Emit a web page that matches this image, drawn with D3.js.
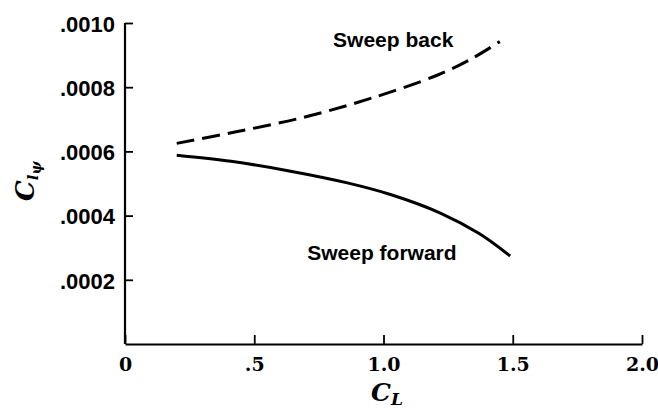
<!DOCTYPE html>
<html>
<head>
<meta charset="utf-8">
<script src="https://cdn.jsdelivr.net/npm/d3@7"></script>
<style>
html,body{margin:0;padding:0;background:#fff;}
svg{display:block;}
</style>
</head>
<body>
<svg id="chart" width="658" height="410"></svg>
<script>
// Data
const xTicks = [0, 0.5, 1.0, 1.5, 2.0];
const xTickLabels = ["0", ".5", "1.0", "1.5", "2.0"];
const yTicks = [0.0002, 0.0004, 0.0006, 0.0008, 0.0010];
const yTickLabels = [".0002", ".0004", ".0006", ".0008", ".0010"];

const backCL = [0.20, 0.43, 0.69, 0.95, 1.21, 1.335, 1.45];
const backCl = [0.000625, 0.000661, 0.000706, 0.000765, 0.000838, 0.000886, 0.000942];
const fwdCL = [0.20, 0.41, 0.63, 0.86, 1.03, 1.22, 1.37, 1.49];
const fwdCl = [0.000588, 0.000569, 0.000540, 0.000502, 0.000465, 0.000408, 0.000344, 0.000274];

const seriesNames = ["Sweep back", "Sweep forward"];

const svg = d3.select("#chart");
const x = d3.scaleLinear().domain([0, 2]).range([125, 642]);
const y = d3.scaleLinear().domain([0, 0.001]).range([344, 23]);

// X axis
const xAxis = d3.axisBottom(x).tickValues(xTicks).tickSizeInner(-9).tickSizeOuter(0)
  .tickFormat((d, i) => xTickLabels[i]).tickPadding(14);
const gx = svg.append("g").attr("transform", `translate(0,${y(0)})`).call(xAxis);
gx.select(".domain").attr("stroke", "#000").attr("stroke-width", 2.2);
gx.selectAll(".tick line").attr("stroke", "#000").attr("stroke-width", 1.8);
gx.selectAll(".tick text").attr("fill", "#000")
  .style("font-family", "'DejaVu Serif', serif").style("font-weight", "bold").style("font-size", "19px");

// Y axis
const yAxis = d3.axisLeft(y).tickValues(yTicks).tickSizeInner(-8).tickSizeOuter(0)
  .tickFormat((d, i) => yTickLabels[i]).tickPadding(10);
const gy = svg.append("g").attr("transform", `translate(${x(0)},0)`).call(yAxis);
gy.select(".domain").attr("stroke", "#000").attr("stroke-width", 2.2)
  .attr("d", `M0,${y(0.001)}V${y(0)}`);
gy.selectAll(".tick line").attr("stroke", "#000").attr("stroke-width", 1.8);
gy.selectAll(".tick text").attr("fill", "#000")
  .style("font-family", "'Liberation Sans', Arial, sans-serif").style("font-weight", "bold").style("font-size", "22px")
  .attr("dy", "0.38em");

// Curves
const line = d3.line().x(d => x(d[0])).y(d => y(d[1])).curve(d3.curveCatmullRom.alpha(0.5));
const backData = backCL.map((v, i) => [v, backCl[i]]);
const fwdData = fwdCL.map((v, i) => [v, fwdCl[i]]);

svg.append("path").attr("d", line(backData)).attr("fill", "none")
  .attr("stroke", "#000").attr("stroke-width", 3).attr("stroke-dasharray", "18,8");
svg.append("path").attr("d", line(fwdData)).attr("fill", "none")
  .attr("stroke", "#000").attr("stroke-width", 3);

// Series labels
const labelFont = "'Liberation Sans', Arial, sans-serif";
svg.append("text").attr("x", x(0.805)).attr("y", y(0.000925)).text(seriesNames[0])
  .style("font-family", labelFont).style("font-weight", "bold").style("font-size", "21px");
svg.append("text").attr("x", x(0.705)).attr("y", y(0.000262)).text(seriesNames[1])
  .style("font-family", labelFont).style("font-weight", "bold").style("font-size", "21px");

// Axis titles
const xt = svg.append("text").attr("x", 371).attr("y", 401)
  .style("font-family", "'DejaVu Serif', serif").style("font-style", "italic").style("font-weight", "bold").style("font-size", "25px");
xt.append("tspan").text("C");
xt.append("tspan").attr("dy", 4).style("font-size", "17px").text("L");

const yt = svg.append("text").attr("transform", "translate(34,201) rotate(-90)")
  .style("font-family", "'DejaVu Serif', serif").style("font-style", "italic").style("font-weight", "bold").style("font-size", "26px");
yt.append("tspan").text("C");
yt.append("tspan").attr("dy", 4).style("font-size", "15px").text("l");
yt.append("tspan").attr("dy", 3).style("font-size", "14px").text("ψ");
</script>
</body>
</html>
